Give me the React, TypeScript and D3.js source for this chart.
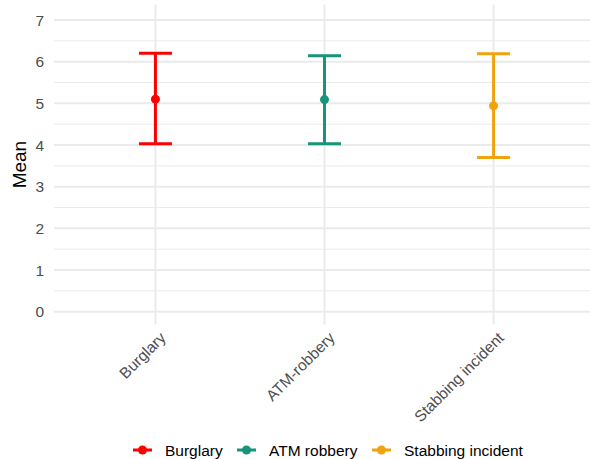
import React from "react";
import * as d3 from "d3";

const categories = ["Burglary", "ATM-robbery", "Stabbing incident"];
const legendLabels = ["Burglary", "ATM robbery", "Stabbing incident"];
const means = [5.1, 5.09, 4.94];
const lowers = [4.03, 4.03, 3.7];
const uppers = [6.2, 6.14, 6.19];
const colors = ["#ff0000", "#16957b", "#f1a20f"];
const yTicks = [0, 1, 2, 3, 4, 5, 6, 7];
const yMinor = [0.5, 1.5, 2.5, 3.5, 4.5, 5.5, 6.5];

const W = 590;
const H = 459;
const font = "'Liberation Sans', Arial, Helvetica, sans-serif";

export default function App() {
  const panelLeft = 54;
  const panelRight = 595;
  const x = d3
    .scalePoint<string>()
    .domain(categories)
    .range([panelLeft, panelRight])
    .padding(0.6);
  const y = d3.scaleLinear().domain([0, 7]).range([311.7, 20]);
  const yTop = y(7.37);
  const yBottom = y(-0.31);
  const grid = "#ebebeb";
  const capHalf = 16.5;
  const tickSize = 15.5;

  return (
    <svg
      width={W}
      height={H}
      style={{ position: "absolute", left: 0, top: 0, background: "#fff" }}
    >
      {/* minor horizontal grid */}
      {yMinor.map((v) => (
        <line key={"mn" + v} x1={panelLeft} x2={W} y1={y(v)} y2={y(v)} stroke={grid} strokeWidth={1} />
      ))}
      {/* major horizontal grid */}
      {yTicks.map((v) => (
        <line key={"mj" + v} x1={panelLeft} x2={W} y1={y(v)} y2={y(v)} stroke={grid} strokeWidth={2} />
      ))}
      {/* vertical grid */}
      {categories.map((c) => (
        <line key={"vg" + c} x1={x(c)!} x2={x(c)!} y1={yTop} y2={yBottom} stroke={grid} strokeWidth={2} />
      ))}
      {/* y tick labels */}
      {yTicks.map((v) => (
        <text
          key={"yt" + v}
          x={44}
          y={y(v)}
          dy="0.36em"
          textAnchor="end"
          fontFamily={font}
          fontSize={tickSize}
          fill="#4d4d4d"
        >
          {v}
        </text>
      ))}
      {/* y title */}
      <text
        transform={`translate(26, ${(yTop + yBottom) / 2}) rotate(-90)`}
        textAnchor="middle"
        fontFamily={font}
        fontSize={19}
        fill="#000"
      >
        Mean
      </text>
      {/* x tick labels */}
      {categories.map((c) => (
        <text
          key={"xt" + c}
          transform={`translate(${x(c)! + 3}, ${yBottom + 6}) rotate(-45)`}
          textAnchor="end"
          dy="0.75em"
          fontFamily={font}
          fontSize={tickSize}
          fill="#4d4d4d"
        >
          {c}
        </text>
      ))}
      {/* error bars and means */}
      {categories.map((c, i) => {
        const cx = x(c)!;
        return (
          <g key={"eb" + c} stroke={colors[i]} strokeWidth={3}>
            <line x1={cx} x2={cx} y1={y(lowers[i])} y2={y(uppers[i])} />
            <line x1={cx - capHalf} x2={cx + capHalf} y1={y(lowers[i])} y2={y(lowers[i])} />
            <line x1={cx - capHalf} x2={cx + capHalf} y1={y(uppers[i])} y2={y(uppers[i])} />
            <circle cx={cx} cy={y(means[i])} r={4.5} fill={colors[i]} stroke="none" />
          </g>
        );
      })}
      {/* legend */}
      {(() => {
        const starts = [133, 237, 372];
        return legendLabels.map((l, i) => (
          <g key={"lg" + l} transform={`translate(${starts[i]}, 450)`}>
            <line x1={0} x2={19} y1={0} y2={0} stroke={colors[i]} strokeWidth={3} />
            <circle cx={9.5} cy={0} r={4.5} fill={colors[i]} />
            <text x={32} y={0} dy="0.36em" fontFamily={font} fontSize={tickSize} fill="#000">
              {l}
            </text>
          </g>
        ));
      })()}
    </svg>
  );
}
